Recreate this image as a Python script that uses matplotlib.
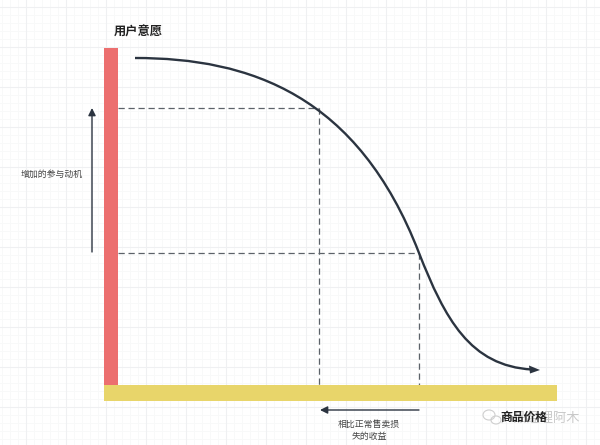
import numpy as np
import matplotlib.pyplot as plt
from matplotlib.patches import Rectangle, Ellipse, PathPatch, Polygon
from matplotlib.path import Path

plt.rcParams['font.family'] = ['Noto Sans CJK SC', 'DejaVu Sans']

# everything is read off the picture, in pixels
# curve is two bezier pieces, joined at the lower guide
curve_x = [135, 250, 358, 419, 445, 470, 532]
curve_y = [58, 58, 95, 253, 319, 366, 369.5]

price_levels = [319, 419]
willing_levels = [108, 253]

major_x = np.arange(26, 600, 40)
major_y = np.arange(7, 445, 40)
minor_x = np.arange(2, 600, 8)
minor_y = np.arange(7, 445, 8)

RED = '#ec6f6f'
YELLOW = '#e8d56a'
DARK = '#2b3440'
DASH = '#5c6269'

fig = plt.figure(figsize=(6, 4.45), dpi=100)
ax = fig.add_axes([0, 0, 1, 1])
ax.set_xlim(0, 600)
ax.set_ylim(445, 0)
ax.axis('off')

# grid paper background
for x in minor_x:
    ax.axvline(x, color='#f8f9f9', lw=0.7, zorder=0)
for y in minor_y:
    ax.axhline(y, color='#f8f9f9', lw=0.7, zorder=0)
for x in major_x:
    ax.axvline(x, color='#eff0f2', lw=0.8, zorder=0)
for y in major_y:
    ax.axhline(y, color='#eff0f2', lw=0.8, zorder=0)

# axes as thick bars
ax.add_patch(Rectangle((104, 48), 14, 337, color=RED, lw=0, zorder=3))
ax.add_patch(Rectangle((104, 385), 453, 15.5, color=YELLOW, lw=0, zorder=3))

# dashed guides
dash = dict(color=DASH, lw=0.9, ls=(0, (5, 3)), zorder=2)
for px, wy in zip(price_levels, willing_levels):
    ax.plot([118, px], [wy, wy], **dash)
    ax.plot([px, px], [wy, 385], **dash)

# demand curve
codes = [Path.MOVETO] + [Path.CURVE4] * 6
curve = Path(np.column_stack([curve_x, curve_y]), codes)
ax.add_patch(PathPatch(curve, fill=False, ec=DARK, lw=1.7, capstyle='butt', zorder=4))
ax.add_patch(Polygon([[540, 370], [529, 365.5], [530, 373.5]], closed=True, color=DARK, lw=0, zorder=4))

# direction arrows
ax.annotate('', xy=(92, 108), xytext=(92, 252),
            arrowprops=dict(arrowstyle='-|>', color=DARK, lw=1.0, mutation_scale=11,
                            shrinkA=0, shrinkB=0))
ax.annotate('', xy=(320, 410), xytext=(419, 410),
            arrowprops=dict(arrowstyle='-|>', color=DARK, lw=1.0, mutation_scale=11,
                            shrinkA=0, shrinkB=0))

# labels
ax.text(138, 32, '用户意愿', fontsize=8.8, fontweight='bold', color='#222222', ha='center', va='center')
ax.text(52, 174, '增加的参与动机', fontsize=6.4, color='#444444', ha='center', va='center')
ax.text(369, 424, '相比正常售卖损', fontsize=6.4, color='#444444', ha='center', va='center')
ax.text(369, 436, '失的收益', fontsize=6.4, color='#444444', ha='center', va='center')

# watermark under the x label
ax.add_patch(Ellipse((489, 415), 12, 10, fill=False, ec='#cfcfcf', lw=0.8, zorder=5))
ax.add_patch(Ellipse((496, 420), 10, 8, fill=False, ec='#cfcfcf', lw=0.8, zorder=5))
ax.text(580, 418, '产品经理阿木', fontsize=9.5, color='#c8c8c8', ha='right', va='center', zorder=5)
ax.text(524, 417, '商品价格', fontsize=8.5, fontweight='bold', color='#222222', ha='center', va='center', zorder=6)

fig.savefig('out.png', dpi=100)
